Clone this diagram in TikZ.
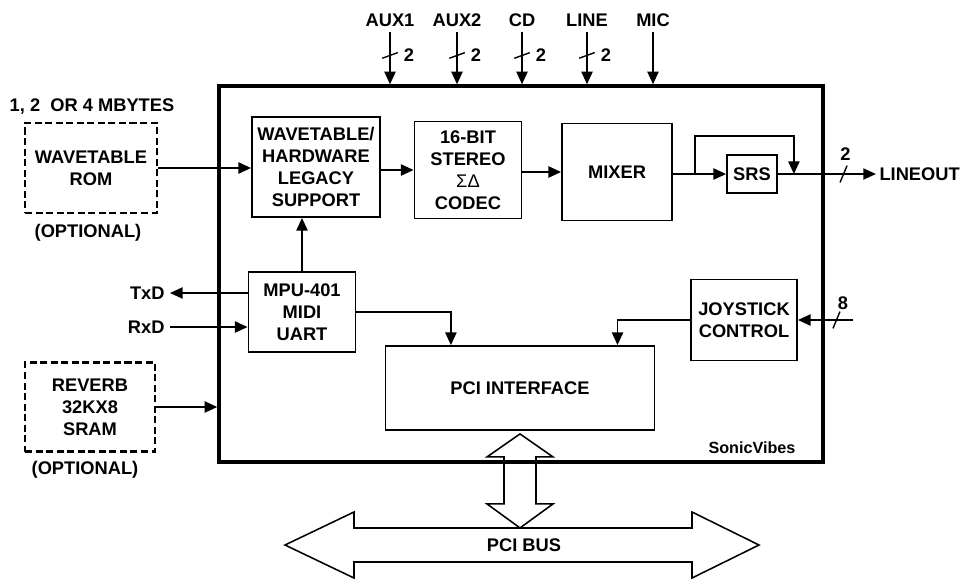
\documentclass[tikz,border=0pt]{standalone}
\usepackage{fontspec}
\setmainfont{Liberation Sans}
\usetikzlibrary{arrows.meta, positioning, calc}

\begin{document}
\begin{tikzpicture}[
  x=0.025cm, y=-0.025cm,
  >={Triangle[length=9pt,width=8pt]}, line width=1.1pt,
  font=\fontsize{13}{15.6}\selectfont\bfseries,
  block/.style    = {draw, rectangle, align=center, inner sep=1pt, line width=1.3pt},
  optional/.style = {block, dash pattern=on 5pt off 2.5pt, line width=1.8pt},
  vbus/.pic = {\draw[-, line width=1pt] (-5.5pt,-2pt) -- (5.5pt,2pt);},
  hbus/.pic = {\draw[-, line width=1pt] (-2.5pt,-6pt) -- (2.5pt,6pt);},
]
  \useasboundingbox (0,0) rectangle (963,580);

  \node[block, minimum width=15.1cm, minimum height=9.4cm, line width=2.4pt] (chip) at (521,274) {};
  \node[font=\fontsize{11.5}{13}\selectfont\bfseries] (name) at (752,448) {SonicVibes};

  \node[optional, minimum width=3.3cm,   minimum height=2.25cm]  (rom)    at (91,168)  {WAVETABLE\\ROM};
  \node                                                          (romsz)  at (92,107)  {1, 2\ \ OR 4 MBYTES};
  \node                                                          (romopt) at (88,233)  {(OPTIONAL)};
  \node[block,    minimum width=3.2cm,   minimum height=2.5cm]   (legacy) at (316,167) {WAVETABLE/\\HARDWARE\\LEGACY\\SUPPORT};
  \node[block,    minimum width=2.675cm, minimum height=2.425cm] (codec)  at (468,170) {16-BIT\\STEREO\\{\mdseries ΣΔ}\\CODEC};
  \node[block,    minimum width=2.75cm,  minimum height=2.425cm] (mixer)  at (617,172) {MIXER};
  \node[block,    minimum width=1.25cm,  minimum height=0.95cm]  (srs)    at (752,174) {SRS};
  \node[block,    minimum width=2.675cm, minimum height=2cm]     (mpu)    at (302,312) {MPU-401\\MIDI\\UART};
  \node[block,    minimum width=6.725cm, minimum height=2.1cm]   (pci)    at (520,388) {PCI INTERFACE};
  \node[block,    minimum width=2.65cm,  minimum height=2.025cm] (joy)    at (744,320) {JOYSTICK\\CONTROL};
  \node[optional, minimum width=3.25cm,  minimum height=2.225cm] (sram)   at (90,407)  {REVERB\\32KX8\\SRAM};
  \node                                                          (sramopt) at (85,470) {(OPTIONAL)};

  % audio inputs
  \node (aux1) at (390,20) {AUX1};
  \node (aux2) at (457,20) {AUX2};
  \node (cd)   at (522,20) {CD};
  \node (line) at (587,20) {LINE};
  \node (mic)  at (653,20) {MIC};
  \draw[->] (aux1.south) -- (aux1.south |- chip.north) pic[pos=0.45]{vbus} node[pos=0.45, right=6pt]{2};
  \draw[->] (aux2.south) -- (aux2.south |- chip.north) pic[pos=0.45]{vbus} node[pos=0.45, right=6pt]{2};
  \draw[->] (cd.south)   -- (cd.south |- chip.north)   pic[pos=0.45]{vbus} node[pos=0.45, right=6pt]{2};
  \draw[->] (line.south) -- (line.south |- chip.north) pic[pos=0.45]{vbus} node[pos=0.45, right=6pt]{2};
  \draw[->] (mic.south)  -- (mic.south |- chip.north);

  % audio path
  \draw[->] (rom.east) -- (rom.east -| legacy.west);
  \draw[->] (legacy.east |- codec.west) -- (codec.west);
  \draw[->] (codec.east |- mixer.west) -- (mixer.west);
  \draw[->] (mixer.east |- srs.west) -- coordinate[pos=0.42] (tap) (srs.west);
  \path (srs.east) -- ++(16,0) coordinate (join) -- ++(82,0) coordinate (lineout);
  \draw[->] (tap) -- ++(0,-38) -| (join);
  \draw[->] (srs.east) -- (lineout) pic[pos=0.67]{hbus} node[pos=0.69, above=6pt]{2};
  \node[right=0pt of lineout, inner sep=2pt] (lo) {LINEOUT};

  % midi, joystick, reverb
  \draw[->] (mpu.north) -- (mpu.north |- legacy.south);
  \node[anchor=east] (txd) at (170,293) {TxD};
  \node[anchor=east] (rxd) at (170,327) {RxD};
  \draw[->] (mpu.west |- txd.east) -- (txd.east);
  \draw[->] (rxd.east) -- (rxd.east -| mpu.west);
  \draw[->] (mpu.east) -| ($(pci.north west)!0.245!(pci.north east)$);
  \draw[->] (joy.west) -| ($(pci.north west)!0.86!(pci.north east)$);
  \coordinate (joyin) at (853,320);
  \draw[->] (joyin) -- (joy.east) pic[pos=0.3]{hbus};
  \node (joyw) at (843,303) {8};
  \draw[->] (sram.east) -- (sram.east -| chip.west);

  % pci bus
  \draw ($(pci.south)+(0,3)$) -- ++(33,23) -- ++(-17,0) -- ++(0,47) -- ++(17,0) -- ++(-33,24)
        -- ++(-33,-24) -- ++(17,0) -- ++(0,-47) -- ++(-17,0) -- cycle;
  \node (bus) at (524,545) {PCI BUS};
  \draw (285,545) -- (354,512) -- (354,528) -- (692,528) -- (692,512) -- (759,545)
        -- (692,578) -- (692,562) -- (354,562) -- (354,578) -- cycle;
\end{tikzpicture}
\end{document}
